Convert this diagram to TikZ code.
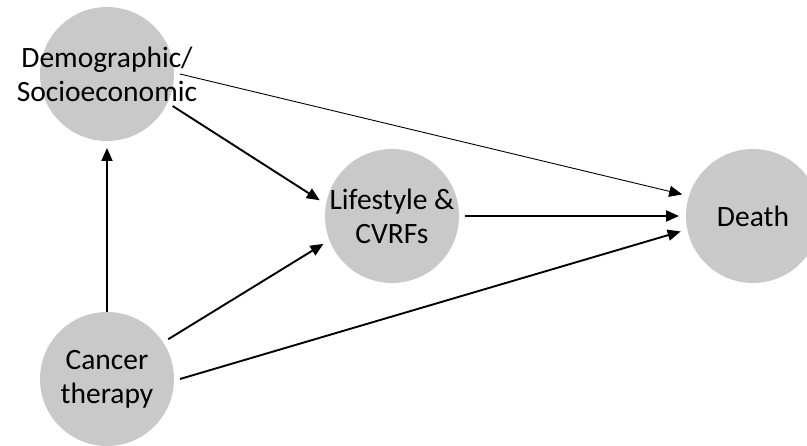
\documentclass[tikz,border=0pt]{standalone}
\usepackage{fontspec}
\setmainfont{Carlito}
\usepackage{xcolor}
\usetikzlibrary{positioning, arrows.meta}
\definecolor{bubblegray}{RGB}{201,201,201}

\begin{document}
\begin{tikzpicture}[x=1pt, y=-1pt, on grid, shorten >=1pt,
    factor/.style={circle, fill=bubblegray, minimum size=134pt, inner sep=0pt,
        outer sep=6pt,
        label={[align=center, font=\fontsize{29.5}{34}\selectfont]center:#1}},
    >={Triangle[length=13pt, width=11pt]}]
    \useasboundingbox (0,0) rectangle (807,446);

    \node[factor={Demographic/\\Socioeconomic}] (demo) at (107,74) {};
    \node[factor={Cancer\\therapy}] (cancer) [below=305pt of demo] {};
    \node[factor={Lifestyle \&\\CVRFs}] (life) [above right=163pt and 285pt of cancer] {};
    \node[factor={Death}] (death) [right=361pt of life] {};

    \path[->, line width=1.9pt]
        (cancer.north) edge[shorten <=-6pt] (demo.south)
        (cancer.33) edge (life.202)
        (cancer.east) edge (death.192)
        (demo.-26) edge (life.168)
        (life.east) edge (death.west);

    \path[->, line width=0.9pt]
        (demo.east) edge (death.163);
\end{tikzpicture}
\end{document}
